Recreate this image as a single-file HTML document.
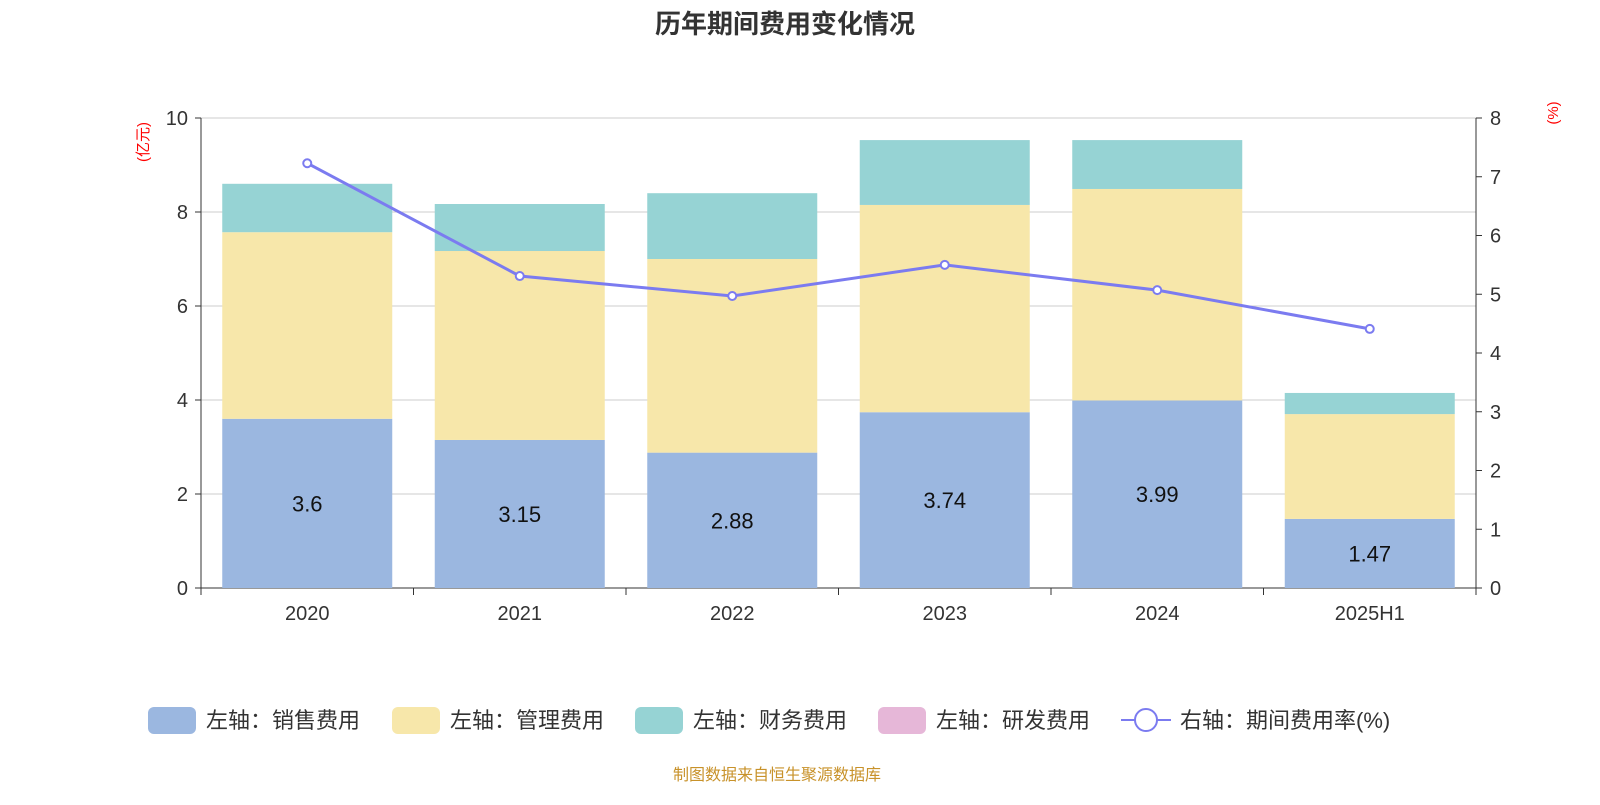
<!DOCTYPE html>
<html><head><meta charset="utf-8"><style>
body{margin:0;background:#fff;font-family:"Liberation Sans","Noto Sans CJK SC",sans-serif;}
</style></head><body>
<svg id="chart" width="1600" height="800" xmlns="http://www.w3.org/2000/svg"></svg>
<script>
const categories=["2020","2021","2022","2023","2024","2025H1"];
const sales=[3.6,3.15,2.88,3.74,3.99,1.47];
const mgmt=[3.97,4.02,4.12,4.41,4.5,2.23];
const fin=[1.03,1.0,1.4,1.38,1.04,0.45];
const rnd=[0,0,0,0,0,0];
const rate=[7.23,5.31,4.97,5.50,5.07,4.41];
const leftTicks=[0,2,4,6,8,10];
const rightTicks=[0,1,2,3,4,5,6,7,8];

const svg=document.getElementById('chart');
const NS="http://www.w3.org/2000/svg";
const L=201,R=1476,T=118,B=588;
const yL=v=>B-(v/10)*(B-T);
const yR=v=>B-(v/8)*(B-T);
const bw=(R-L)/categories.length;
const xC=i=>L+bw*(i+0.5);
const FONT='"Liberation Sans","Noto Sans CJK SC",sans-serif';
function mk(tag,attrs,txt){const e=document.createElementNS(NS,tag);for(const k in attrs)e.setAttribute(k,attrs[k]);if(txt!==undefined)e.textContent=txt;svg.appendChild(e);return e;}

let t=mk('text',{x:785,y:33,'text-anchor':'middle','font-size':26,'font-weight':'bold',fill:'#333','font-family':FONT},'历年期间费用变化情况');



leftTicks.forEach(v=>{
  const g=mk('line',{x1:L,x2:R,y1:yL(v),y2:yL(v),stroke:v===0?'#333':'#ccc','stroke-width':1});
  
  
  const lb=mk('text',{x:188,y:yL(v)+7,'text-anchor':'end','font-size':20,fill:'#333','font-family':FONT},String(v));
  
  
  const tk=mk('line',{x1:L-6,x2:L,y1:yL(v),y2:yL(v),stroke:'#333'});
  
  
});
rightTicks.forEach(v=>{
  const lb=mk('text',{x:1490,y:yR(v)+7,'font-size':20,fill:'#333','font-family':FONT},String(v));
  
  
  const tk=mk('line',{x1:R,x2:R+6,y1:yR(v),y2:yR(v),stroke:'#333'});
  
  
});
let a=mk('line',{x1:L,x2:L,y1:T,y2:B,stroke:'#333'});
a=mk('line',{x1:R,x2:R,y1:T,y2:B,stroke:'#333'});
let u=mk('text',{x:0,y:0,'font-size':15,fill:'red','text-anchor':'middle','font-family':FONT,transform:'translate(148,142) rotate(-90)'},'(亿元)');

u=mk('text',{x:0,y:0,'font-size':15,fill:'red','text-anchor':'middle','font-family':FONT,transform:'translate(1558,113) rotate(-90)'},'(%)');


for(let i=0;i<=categories.length;i++){
  const tk=mk('line',{x1:L+bw*i,x2:L+bw*i,y1:B,y2:B+7,stroke:'#333'});
  
  
}
const colors=['#9bb7e0','#f7e7aa','#96d3d4','#e6b7d8'];
const series=[sales,mgmt,fin,rnd];
const names=['sales','mgmt','finance','rnd'];
categories.forEach((c,i)=>{
  let base=0;const x=xC(i)-85;
  series.forEach((s,k)=>{
    if(s[i]>0){
      const r=mk('rect',{x:x,y:yL(base+s[i]),width:170,height:yL(base)-yL(base+s[i]),fill:colors[k]});
      
      
    }
    base+=s[i];
  });
  const lb=mk('text',{x:xC(i),y:(yL(0)+yL(sales[i]))/2+8,'text-anchor':'middle','font-size':22,fill:'#111','font-family':FONT},String(sales[i]));
  
  
  const xl=mk('text',{x:xC(i),y:620,'text-anchor':'middle','font-size':20,fill:'#333','font-family':FONT},c);
  
  
});
const pts=rate.map((v,i)=>xC(i)+','+yR(v)).join(' ');
const pl=mk('polyline',{points:pts,fill:'none',stroke:'#7b7bf0','stroke-width':3});


rate.forEach((v,i)=>{
  const c=mk('circle',{cx:xC(i),cy:yR(v),r:4,fill:'#fff',stroke:'#7b7bf0','stroke-width':2});
  
  
});
const leg=[['左轴：销售费用',148],['左轴：管理费用',392],['左轴：财务费用',635],['左轴：研发费用',878]];
leg.forEach((l,k)=>{
  const r=mk('rect',{x:l[1],y:707,width:48,height:27,rx:6,fill:colors[k]});
  
  
  const tx=mk('text',{x:l[1]+58,y:728,'font-size':22,fill:'#333','font-family':FONT},l[0]);
  
  
});
let ll=mk('line',{x1:1121,x2:1171,y1:720,y2:720,stroke:'#7b7bf0','stroke-width':2});

ll=mk('circle',{cx:1146,cy:720,r:11,fill:'#fff',stroke:'#7b7bf0','stroke-width':2});

ll=mk('text',{x:1180,y:728,'font-size':22,fill:'#333','font-family':FONT},'右轴：期间费用率(%)');

const f=mk('text',{x:777,y:780,'text-anchor':'middle','font-size':16,fill:'#c8922a','font-family':FONT},'制图数据来自恒生聚源数据库');


</script>
</body></html>
